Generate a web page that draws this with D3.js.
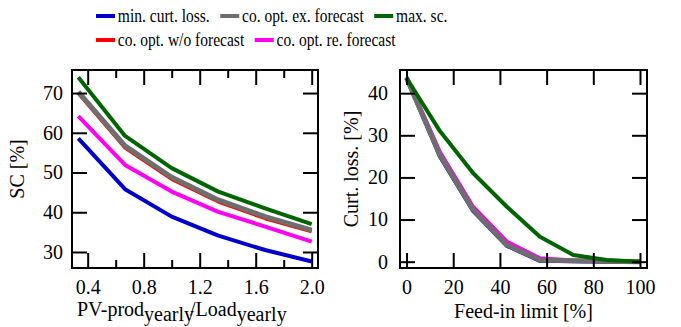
<!DOCTYPE html>
<meta charset="utf-8">
<style>
body { margin: 0; background: #fff; }
.tick line { stroke: #000; stroke-width: 2px; }
.frame { fill: none; stroke: #000; stroke-width: 2px; }
.series { fill: none; stroke-linejoin: round; }
</style>
<svg width="681" height="327"></svg>
<script src="https://d3js.org/d3.v7.min.js"></script>
<script>

// left panel: self-consumption vs PV-prod/Load ratio
var ratio = [0.333, 0.667, 1.0, 1.333, 1.667, 2.0];
var scMin = [58.6, 45.8, 38.9, 34.1, 30.5, 27.6];
var scWo  = [70.0, 56.3, 48.4, 42.7, 38.5, 35.2];
var scRe  = [64.2, 51.9, 45.2, 40.1, 36.4, 32.6];
var scEx  = [70.3, 56.7, 48.8, 43.1, 38.9, 35.5];
var scMax = [74.0, 59.2, 51.1, 45.2, 41.0, 37.0];

// right panel: curtailment loss vs feed-in limit
var feedIn = [0, 14.29, 28.57, 42.86, 57.14, 71.43, 85.71, 100];
var clMin = [43.6, 25.0, 12.0, 3.8, 0.2, 0.1, 0.0, 0.0];
var clWo  = [43.6, 25.3, 12.3, 4.0, 0.4, 0.2, 0.1, 0.0];
var clRe  = [43.8, 26.0, 13.0, 4.8, 0.8, 0.3, 0.2, 0.1];
var clEx  = [43.6, 25.3, 12.3, 4.0, 0.4, 0.2, 0.1, 0.0];
var clMax = [43.6, 31.0, 21.0, 13.1, 5.9, 1.6, 0.4, 0.0];

var leftXTicks = [0.4, 0.8, 1.2, 1.6, 2.0],
    leftXMinor = [0.6, 1.0, 1.4, 1.8],
    leftYTicks = [30, 40, 50, 60, 70],
    rightXTicks = [0, 20, 40, 60, 80, 100],
    rightYTicks = [0, 10, 20, 30, 40];

var names  = ["min. curt. loss.", "co. opt. w/o forecast", "co. opt. re. forecast", "co. opt. ex. forecast", "max. sc."];
var colors = ["#0000cc", "#ff0000", "#ff00f0", "#6e6e6e", "#006400"];
var widths = [4, 4, 4, 5, 4];
var legendRows = [[0, 3, 4], [1, 2]];

var serif = "Liberation Serif";
var svg = d3.select("svg").style("font-family", serif);

function panel(box, xDom, yDom, xs, ys, xTicks, xMinor, yTicks, xFmt, yPad) {
  var x = d3.scaleLinear().domain(xDom).range([0, box.w]),
      y = d3.scaleLinear().domain(yDom).range([box.h, 0]);
  var g = svg.append("g").attr("transform", "translate(" + box.x + "," + box.y + ")");

  var line = d3.line().x(function(d) { return x(d[0]); }).y(function(d) { return y(d[1]); });
  ys.forEach(function(vals, i) {
    g.append("path")
        .attr("class", "series")
        .attr("stroke", colors[i])
        .attr("stroke-width", widths[i])
        .attr("d", line(xs.map(function(v, j) { return [v, vals[j]]; })));
  });

  function clean(a) {
    a.attr("font-family", null).attr("font-size", null);
    a.select(".domain").remove();
    a.selectAll(".tick text").attr("fill", "#000").style("font-size", "20px");
  }

  g.append("g").attr("transform", "translate(0," + box.h + ")")
      .call(d3.axisBottom(x).tickValues(xTicks).tickFormat(xFmt).tickSize(-15).tickPadding(12)).call(clean);
  g.append("g")
      .call(d3.axisTop(x).tickValues(xTicks).tickFormat("").tickSize(-15)).call(clean);
  if (xMinor) {
    g.append("g").attr("transform", "translate(0," + box.h + ")")
        .call(d3.axisBottom(x).tickValues(xMinor).tickFormat("").tickSize(-8)).call(clean);
    g.append("g")
        .call(d3.axisTop(x).tickValues(xMinor).tickFormat("").tickSize(-8)).call(clean);
  }
  g.append("g")
      .call(d3.axisLeft(y).tickValues(yTicks).tickSize(-15).tickPadding(yPad)).call(clean);
  g.append("g").attr("transform", "translate(" + box.w + ",0)")
      .call(d3.axisRight(y).tickValues(yTicks).tickFormat("").tickSize(-15)).call(clean);

  g.append("rect").attr("class", "frame").attr("width", box.w).attr("height", box.h);
  return g;
}

var gl = panel({x: 72, y: 70, w: 246, h: 198}, [0.288, 2.045], [25.97, 75.8],
    ratio, [scMin, scWo, scRe, scEx, scMax], leftXTicks, leftXMinor, leftYTicks, d3.format(".1f"), 9);
var gr = panel({x: 400, y: 70, w: 247, h: 198}, [-2.8, 103], [-1.5, 45.5],
    feedIn, [clMin, clWo, clRe, clEx, clMax], rightXTicks, null, rightYTicks, d3.format("d"), 12);

// axis titles
svg.append("text")
    .attr("transform", "translate(24,169) rotate(-90)")
    .attr("text-anchor", "middle").attr("font-size", 20)
    .text("SC [%]");
svg.append("text")
    .attr("transform", "translate(358,169) rotate(-90)")
    .attr("text-anchor", "middle").attr("font-size", 20)
    .text("Curt. loss. [%]");
svg.append("text")
    .attr("x", 523.5).attr("y", 318)
    .attr("text-anchor", "middle").attr("font-size", 20)
    .text("Feed-in limit [%]");

var xl = svg.append("text").attr("x", 77).attr("y", 316).attr("font-size", 20);
xl.append("tspan").text("PV-prod");
xl.append("tspan").attr("font-size", 20).attr("dy", 5).text("yearly");
xl.append("tspan").attr("dy", -5).attr("dx", -4).text("/Load");
xl.append("tspan").attr("font-size", 20).attr("dy", 5).text("yearly");

// legend, flowed in two rows
var leg = svg.append("g").attr("transform", "translate(96,0) scale(0.84,1)");
var rowY = [16, 40];
legendRows.forEach(function(row, r) {
  var cx = 0;
  row.forEach(function(i) {
    leg.append("line")
        .attr("x1", cx).attr("x2", cx + 22.6)
        .attr("y1", rowY[r]).attr("y2", rowY[r])
        .attr("stroke", colors[i]).attr("stroke-width", 4);
    var t = leg.append("text")
        .attr("x", cx + 26).attr("y", rowY[r] + 6.5)
        .attr("font-size", 18.5)
        .text(names[i]);
    cx += 26 + t.node().getComputedTextLength() + 12.5;
  });
});

svg.selectAll("text").style("font-family", serif);

</script>
